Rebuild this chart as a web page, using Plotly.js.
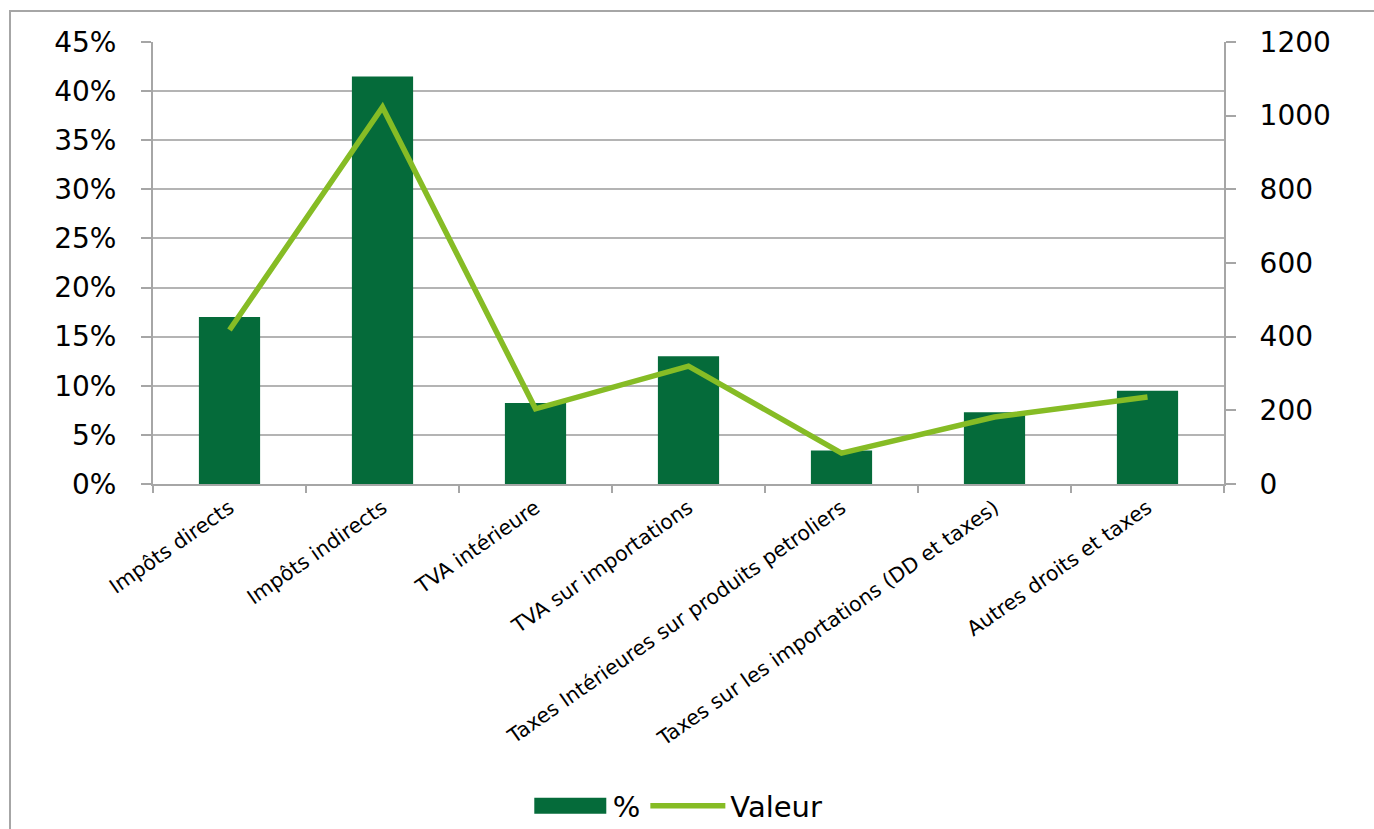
<!DOCTYPE html>
<html>
<head>
<meta charset="utf-8">
<script src="https://cdn.plot.ly/plotly-3.0.1.min.js"></script>
<style>
  html, body { margin: 0; padding: 0; background: #fff; overflow: hidden; }
  #frame { position: absolute; left: 9px; top: 10px; width: 1400px; height: 900px;
           border-left: 2px solid #a6a6a6; border-top: 2px solid #a6a6a6; }
  #chart { position: absolute; left: 0; top: 0; width: 1374px; height: 829px; }
</style>
</head>
<body>
<div id="frame"></div>
<div id="chart"></div>
<script>
const categories = [
  "Impôts directs",
  "Impôts indirects",
  "TVA intérieure",
  "TVA sur importations",
  "Taxes Intérieures sur produits petroliers",
  "Taxes sur les importations (DD et taxes)",
  "Autres droits et taxes"
];
const pctValues = [0.170, 0.415, 0.0825, 0.130, 0.034, 0.073, 0.095];
const valeurValues = [418, 1023, 204, 320, 84, 182, 236];
const leftTicks = [0, 0.05, 0.10, 0.15, 0.20, 0.25, 0.30, 0.35, 0.40, 0.45];
const rightTicks = [0, 200, 400, 600, 800, 1000, 1200];

const FONT = "Verdana, 'DejaVu Sans', sans-serif";
const GRID = "#b4b4b4";
const AXIS = "#a6a6a6";

const traces = [
  {
    type: "bar",
    name: "%",
    x: categories,
    y: pctValues,
    width: 0.4,
    marker: { color: "#056b3a" },
    yaxis: "y"
  },
  {
    type: "scatter",
    mode: "lines",
    name: "Valeur",
    x: categories,
    y: valeurValues,
    line: { color: "#86bc25", width: 5.5 },
    yaxis: "y2"
  }
];

const layout = {
  width: 1374,
  height: 829,
  paper_bgcolor: "rgba(0,0,0,0)",
  plot_bgcolor: "rgba(0,0,0,0)",
  margin: { l: 153, r: 150, t: 42, b: 345, autoexpand: false },
  font: { family: FONT, color: "#000" },
  showlegend: true,
  legend: {
    orientation: "h",
    x: 0.49, xanchor: "center",
    y: -0.728, yanchor: "middle",
    font: { family: FONT, size: 29, color: "#000" },
    itemwidth: 75,
    traceorder: "normal"
  },
  xaxis: {
    type: "category",
    automargin: false,
    showline: true, linecolor: AXIS, linewidth: 2,
    ticks: "outside", tickson: "boundaries", ticklen: 7, tickcolor: AXIS, tickwidth: 2,
    tickangle: -35,
    ticklabelstandoff: 2,
    tickfont: { family: FONT, size: 20.5, color: "#000" },
    showgrid: false,
    range: [-0.5, 6.5]
  },
  yaxis: {
    automargin: false,
    range: [0, 0.45],
    tickvals: leftTicks,
    tickformat: ".0%",
    showline: true, linecolor: AXIS, linewidth: 2,
    ticks: "outside", ticklen: 10, tickcolor: AXIS, tickwidth: 2,
    showgrid: true, gridcolor: GRID, gridwidth: 2,
    zeroline: false,
    ticklabelstandoff: 19,
    tickfont: { family: FONT, size: 28, color: "#000" }
  },
  yaxis2: {
    automargin: false,
    range: [0, 1200],
    tickvals: rightTicks,
    overlaying: "y",
    side: "right",
    showline: true, linecolor: AXIS, linewidth: 2,
    ticks: "outside", ticklen: 10, tickcolor: AXIS, tickwidth: 2,
    showgrid: false,
    zeroline: false,
    ticklabelstandoff: 18,
    tickfont: { family: FONT, size: 28, color: "#000" }
  }
};

Plotly.newPlot("chart", traces, layout, { staticPlot: true, displayModeBar: false }).then(function (gd) {
  // widen the bar legend swatch to match the reference's wide rectangle
  const first = gd.querySelector(".legend .traces");
  if (first) {
    const p = first.querySelector(".legendpoints path");
    if (p) p.setAttribute("d", "M-36,8H36V-8H-36Z");
  }
});
</script>
</body>
</html>
